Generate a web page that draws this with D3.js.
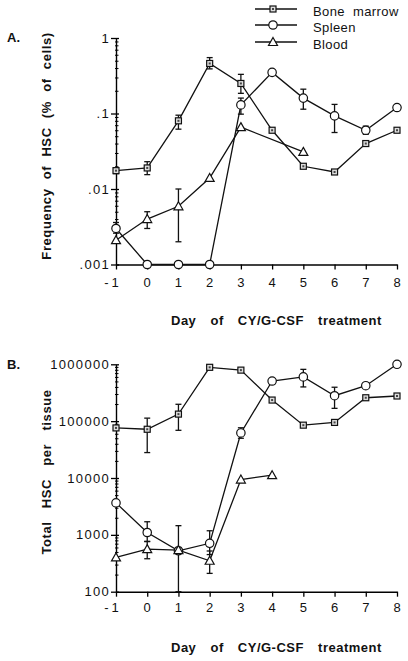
<!DOCTYPE html>
<html><head><meta charset="utf-8">
<script src="https://cdn.jsdelivr.net/npm/d3@7"></script>
<style>
html,body{margin:0;padding:0;background:#fff;}
svg{display:block;}
text{font-family:"Liberation Sans",Arial,Helvetica,sans-serif;fill:#111;}
</style></head>
<body>
<svg id="c" width="408" height="661"></svg>
<script>
// ---------- data ----------
const days = [-1, 0, 1, 2, 3, 4, 5, 6, 7, 8];
const seriesNames = ["Bone marrow", "Spleen", "Blood"];

// Panel A: frequency of HSC (% of cells)
const boneA   = [0.0175, 0.019, 0.08, 0.46, 0.25, 0.06, 0.02, 0.0168, 0.04, 0.06];
const boneALo = [0.016, 0.0155, 0.062, 0.39, 0.185, null, null, null, 0.037, null];
const boneAHi = [0.019, 0.023, 0.095, 0.55, 0.33, null, null, null, 0.043, null];
const spleenA   = [0.003, 0.001, 0.001, 0.001, 0.13, 0.35, 0.16, 0.093, 0.06, 0.12];
const spleenALo = [0.0026, null, null, null, 0.098, null, 0.114, 0.056, 0.053, null];
const spleenAHi = [0.0036, null, null, null, 0.16, null, 0.21, 0.132, 0.068, null];
const bloodA   = [0.0021, 0.004, 0.0059, 0.014, 0.066, null, 0.031, null, null, null];
const bloodALo = [null, 0.003, 0.002, null, null, null, null, null, null, null];
const bloodAHi = [null, 0.005, 0.01, null, null, null, null, null, null, null];
const ticksA = [1, 0.1, 0.01, 0.001];
const tickLabelsA = ["1", ".1", ".01", ".001"];

// Panel B: total HSC per tissue
const boneB   = [76000, 72000, 133000, 885000, 790000, 235000, 85000, 95000, 258000, 277000];
const boneBLo = [71000, 28000, 69000, 850000, 760000, null, null, null, 240000, null];
const boneBHi = [82000, 113000, 198000, 930000, 830000, null, null, null, 275000, null];
const spleenB   = [3650, 1100, 525, 710, 62000, 508000, 600000, 280000, 420000, 1000000];
const spleenBLo = [null, 760, 100, 450, 50000, null, 400000, 168000, 385000, null];
const spleenBHi = [null, 1700, 1450, 1180, 76500, null, 815000, 395000, 445000, null];
const bloodB   = [400, 560, 540, 350, 9400, 11200, null, null, null, null];
const bloodBLo = [null, 380, 480, 210, null, null, null, null, null, null];
const bloodBHi = [null, 770, 600, 520, null, null, null, null, null, null];
const ticksB = [1000000, 100000, 10000, 1000, 100];
const tickLabelsB = ["1000000", "100000", "10000", "1000", "100"];

// ---------- drawing ----------
const svg = d3.select("#c");
svg.append("rect").attr("width", 408).attr("height", 661).attr("fill", "#fff");

const x = d3.scaleLinear().domain([-1, 8]).range([116, 397]);

function marker(g, type, cx, cy) {
  if (type === 0) {
    g.append("rect").attr("x", cx - 3).attr("y", cy - 3).attr("width", 6).attr("height", 6)
      .attr("fill", "#ddd").attr("stroke", "#111").attr("stroke-width", 1.2);
    g.append("rect").attr("x", cx - 1).attr("y", cy - 1).attr("width", 2).attr("height", 2)
      .attr("fill", "#444");
  } else if (type === 1) {
    g.append("circle").attr("cx", cx).attr("cy", cy).attr("r", 4.2)
      .attr("fill", "#fff").attr("stroke", "#111").attr("stroke-width", 1.2);
  } else {
    g.append("path").attr("d", `M${cx},${cy - 4.5}L${cx + 4.5},${cy + 3.5}L${cx - 4.5},${cy + 3.5}Z`)
      .attr("fill", "#fff").attr("stroke", "#111").attr("stroke-width", 1.2);
  }
}

function panel(cfg) {
  const y = d3.scaleLog().domain(cfg.domain).range(cfg.range);
  const g = svg.append("g");

  // axes
  const xAxis = d3.axisBottom(x).tickValues(days).tickSize(5).tickSizeOuter(0).tickFormat(() => "");
  g.append("g").attr("transform", `translate(0,${cfg.range[0]})`).call(xAxis)
    .call(s => s.select(".domain").attr("stroke-width", 1.4))
    .call(s => s.selectAll("line").attr("stroke-width", 1.3));
  g.selectAll(".xl").data(days).enter().append("text")
    .attr("x", d => x(d) + (d < 0 ? -3 : 0)).attr("y", cfg.xLabelY)
    .attr("text-anchor", "middle").attr("font-size", 13).attr("letter-spacing", d => d < 0 ? 3 : 0)
    .text(d => String(d));

  const minors = [];
  const lo = Math.log10(cfg.domain[0]), hi = Math.log10(cfg.domain[1]);
  for (let e = lo; e < hi; e++) for (let m = 2; m <= 9; m++) minors.push(m * Math.pow(10, e));
  g.append("g").attr("transform", "translate(116,0)")
    .call(d3.axisLeft(y).tickValues(minors).tickSize(2.5).tickSizeOuter(0).tickFormat(() => ""))
    .call(s => s.select(".domain").remove())
    .call(s => s.selectAll("line").attr("stroke-width", 1).attr("x2", 2.5).attr("x1", -1));
  g.append("g").attr("transform", "translate(116,0)")
    .call(d3.axisLeft(y).tickValues(cfg.ticks).tickSize(5).tickSizeOuter(0).tickFormat(() => ""))
    .call(s => s.select(".domain").attr("stroke-width", 1.4))
    .call(s => s.selectAll("line").attr("stroke-width", 1.3).attr("x2", 3).attr("x1", -5));
  g.selectAll(".yl").data(cfg.ticks).enter().append("text")
    .attr("x", 110).attr("y", d => y(d) + 4.5).attr("text-anchor", "end")
    .attr("font-size", 13).attr("letter-spacing", 1.3)
    .text((d, i) => cfg.tickLabels[i]);

  // titles
  g.append("text").attr("x", 171).attr("y", cfg.xTitleY).attr("font-size", 13).attr("font-weight", "bold")
    .attr("word-spacing", 10).attr("letter-spacing", 0.5).text("Day of CY/G-CSF treatment");
  g.append("text").attr("transform", `translate(51,${cfg.yTitleC}) rotate(-90)`)
    .attr("text-anchor", "middle").attr("font-size", 13).attr("font-weight", "bold")
    .attr("word-spacing", cfg.yWordSp).attr("letter-spacing", 0.6).text(cfg.yTitle);
  g.append("text").attr("x", 7).attr("y", cfg.letterY).attr("font-size", 13).attr("font-weight", "bold")
    .text(cfg.letter);

  // series
  cfg.series.forEach((s, k) => {
    const pts = days.map((d, i) => ({ d, v: s.v[i], lo: s.lo[i], hi: s.hi[i] })).filter(p => p.v != null);
    g.append("path").datum(pts)
      .attr("d", d3.line().x(p => x(p.d)).y(p => y(p.v)))
      .attr("fill", "none").attr("stroke", "#111").attr("stroke-width", 1.3);
    pts.forEach(p => {
      [p.lo, p.hi].forEach(e => {
        if (e == null) return;
        g.append("line").attr("x1", x(p.d)).attr("x2", x(p.d)).attr("y1", y(p.v)).attr("y2", y(e))
          .attr("stroke", "#111").attr("stroke-width", 1.3);
        g.append("line").attr("x1", x(p.d) - 3).attr("x2", x(p.d) + 3).attr("y1", y(e)).attr("y2", y(e))
          .attr("stroke", "#111").attr("stroke-width", 1.3);
      });
    });
  });
  cfg.series.forEach((s, k) => {
    days.forEach((d, i) => { if (s.v[i] != null) marker(g, k, x(d), y(s.v[i])); });
  });
}

panel({
  domain: [0.001, 1], range: [264.5, 38], ticks: ticksA, tickLabels: tickLabelsA,
  xLabelY: 287, xTitleY: 325, yTitleC: 146, yWordSp: 5, letterY: 42, letter: "A.",
  yTitle: "Frequency of HSC (% of cells)",
  series: [
    { v: boneA, lo: boneALo, hi: boneAHi },
    { v: spleenA, lo: spleenALo, hi: spleenAHi },
    { v: bloodA, lo: bloodALo, hi: bloodAHi }
  ]
});
panel({
  domain: [100, 1000000], range: [591.7, 364.3], ticks: ticksB, tickLabels: tickLabelsB,
  xLabelY: 612, xTitleY: 652, yTitleC: 472, yWordSp: 9, letterY: 369, letter: "B.",
  yTitle: "Total HSC per tissue",
  series: [
    { v: boneB, lo: boneBLo, hi: boneBHi },
    { v: spleenB, lo: spleenBLo, hi: spleenBHi },
    { v: bloodB, lo: bloodBLo, hi: bloodBHi }
  ]
});

// legend
const legY = [9, 25, 42];
const leg = svg.append("g");
seriesNames.forEach((n, k) => {
  leg.append("line").attr("x1", 255).attr("x2", 297).attr("y1", legY[k]).attr("y2", legY[k])
    .attr("stroke", "#111").attr("stroke-width", 1.3);
  marker(leg, k, 273, legY[k]);
  leg.append("text").attr("x", 313).attr("y", legY[k] + 6.5).attr("font-size", 13)
    .attr("letter-spacing", 0.4).attr("word-spacing", 4).text(n);
});
</script>
</body></html>
